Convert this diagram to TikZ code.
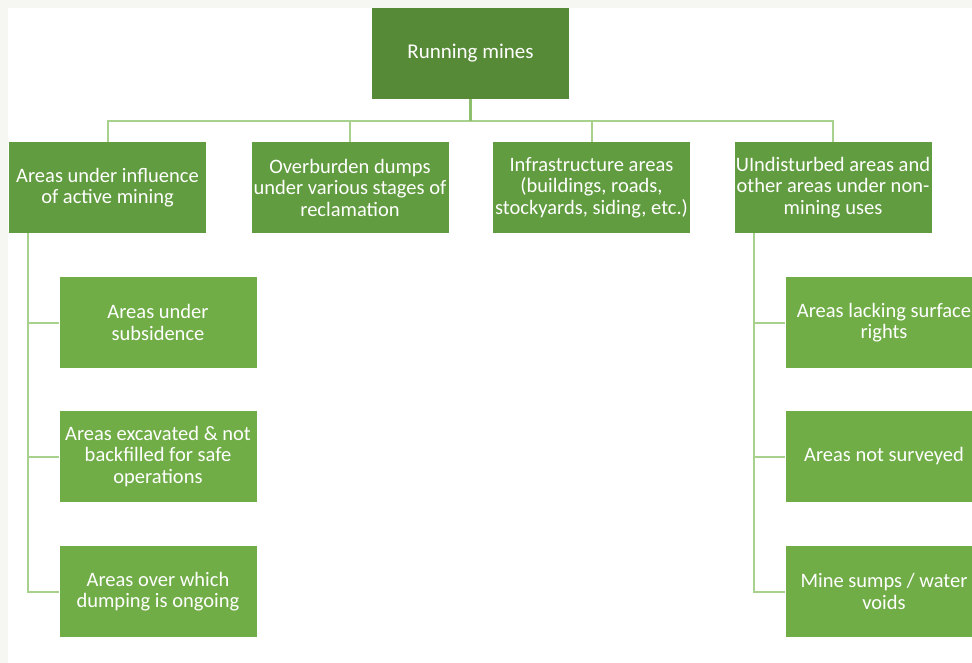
\documentclass[tikz,border=0pt]{standalone}
\usepackage{fontspec}
\setmainfont{Carlito}
\definecolor{topgreen}{HTML}{578A37}
\definecolor{midgreen}{HTML}{629C40}
\definecolor{lowgreen}{HTML}{70AD47}
\definecolor{linegreen}{HTML}{A9D18E}
\definecolor{stubgreen}{HTML}{8DBF6C}
\definecolor{framebg}{HTML}{F6F7F2}
\begin{document}
\begin{tikzpicture}[x=1pt,y=1pt,
  box/.style={rectangle, minimum width=197pt, minimum height=91pt, inner sep=0pt,
    align=center, text=white, font=\fontsize{20.5}{21.5}\selectfont},
  topbox/.style={box, fill=topgreen, font=\fontsize{21}{22}\selectfont},
  midbox/.style={box, fill=midgreen},
  lowbox/.style={box, fill=lowgreen},
  conn/.style={draw=linegreen, line width=2pt},
  stub/.style={draw=stubgreen, line width=2.5pt}]
\useasboundingbox (0,0) rectangle (972,-663);
\fill[framebg] (0,0) rectangle (972,-663);
\fill[white] (8,-8) rectangle (972,-663);
\node[topbox] (top) at (470.5,-53.5) {Running mines};
\node[midbox] (a1) at (107.5,-187.5) {Areas under influence\\of active mining};
\node[midbox] (a2) at (350,-187.5) {Overburden dumps\\under various stages of\\reclamation};
\node[midbox] (a3) at (591.5,-187.5) {Infrastructure areas\\(buildings, roads,\\stockyards, siding, etc.)};
\node[midbox] (a4) at (833,-187.5) {UIndisturbed areas and\\other areas under non-\\mining uses};
\node[lowbox] (l1) at (158,-322.5) {Areas under\\subsidence};
\node[lowbox] (l2) at (158,-456.5) {Areas excavated \& not\\backfilled for safe\\operations};
\node[lowbox] (l3) at (158,-591.5) {Areas over which\\dumping is ongoing};
\node[lowbox] (r1) at (884,-322.5) {Areas lacking surface\\rights};
\node[lowbox] (r2) at (884,-456.5) {Areas not surveyed};
\node[lowbox] (r3) at (884,-591.5) {Mine sumps / water\\voids};
\coordinate (bus) at (470.5,-121);
\draw[conn] (bus) -| (a1.north);
\draw[conn] (bus) -| (a2.north);
\draw[conn] (bus) -| (a3.north);
\draw[conn] (bus) -| (a4.north);
\draw[stub] (top.south) -- (bus);
\coordinate (lt) at ([xshift=19pt]a1.south west);
\coordinate (rt) at ([xshift=20pt]a4.south west);
\draw[conn] (lt) |- (l1.west);
\draw[conn] (lt) |- (l2.west);
\draw[conn] (lt) |- (l3.west);
\draw[conn] (rt) |- (r1.west);
\draw[conn] (rt) |- (r2.west);
\draw[conn] (rt) |- (r3.west);
\end{tikzpicture}
\end{document}
